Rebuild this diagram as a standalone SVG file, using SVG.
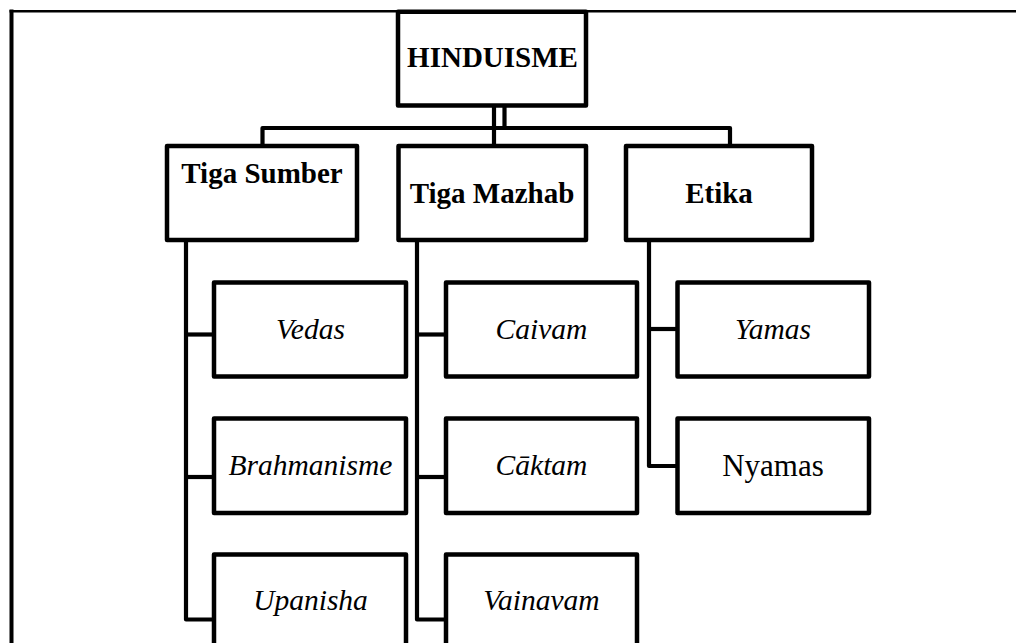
<svg xmlns="http://www.w3.org/2000/svg" width="1016" height="643" viewBox="0 0 1016 643">
<style>
.box{fill:#fff;stroke:#000;stroke-width:4.5;stroke-linejoin:round}
.con{fill:none;stroke:#000;stroke-width:4.2;stroke-linejoin:round}
.t{font-family:"Liberation Serif","Times New Roman",serif;font-size:29.5px;fill:#000;text-anchor:middle}
.b{font-weight:bold;font-size:29px}
.i{font-style:italic}
.n{font-size:31px}
</style>
<rect width="1016" height="643" fill="#fff"/>
<g id="frame">
<line x1="11.5" y1="9.5" x2="11.5" y2="643" stroke="#000" stroke-width="4"/>
<line x1="9.5" y1="11.2" x2="1016" y2="11.2" stroke="#000" stroke-width="2.6"/>
</g>
<g id="connectors" class="con">
<path d="M494,105 V146"/>
<path d="M504.5,105 V128"/>
<path d="M262.5,146 V128 H730 V146"/>
<path d="M186,240 V619.5 H214"/>
<path d="M186,334.5 H214"/>
<path d="M186,477 H214"/>
<path d="M417,240 V619.5 H446"/>
<path d="M417,334.5 H446"/>
<path d="M417,477 H446"/>
<path d="M649,240 V466 H677.5"/>
<path d="M649,329 H677.5"/>
</g>
<g id="n-hinduisme"><rect class="box" x="398" y="11.7" width="188" height="93.8"/><text class="t b" x="492.5" y="66.5">HINDUISME</text></g>
<g id="n-tigasumber"><rect class="box" x="167" y="146" width="190" height="94"/><text class="t b" x="262" y="183">Tiga Sumber</text></g>
<g id="n-tigamazhab"><rect class="box" x="398.5" y="146" width="187.5" height="94"/><text class="t b" x="492" y="203">Tiga Mazhab</text></g>
<g id="n-etika"><rect class="box" x="626" y="146" width="186" height="94"/><text class="t b" x="719" y="203">Etika</text></g>
<g id="n-vedas"><rect class="box" x="214" y="282.5" width="192" height="94"/><text class="t i" x="310.5" y="339">Vedas</text></g>
<g id="n-brahmanisme"><rect class="box" x="214" y="418.5" width="192" height="94.5"/><text class="t i" x="310.5" y="475">Brahmanisme</text></g>
<g id="n-upanisha"><rect class="box" x="214" y="554.5" width="192" height="100"/><text class="t i" x="310.5" y="610">Upanisha</text></g>
<g id="n-caivam"><rect class="box" x="446" y="282.5" width="191" height="94"/><text class="t i" x="541.5" y="339">Caivam</text></g>
<g id="n-caktam"><rect class="box" x="446" y="418.5" width="191" height="94.5"/><text class="t i" x="541.5" y="475">Cāktam</text></g>
<g id="n-vainavam"><rect class="box" x="446" y="554.5" width="191" height="100"/><text class="t i" x="541.5" y="610">Vainavam</text></g>
<g id="n-yamas"><rect class="box" x="677.5" y="282.5" width="191.5" height="94"/><text class="t i" x="773" y="339">Yamas</text></g>
<g id="n-nyamas"><rect class="box" x="677.5" y="418.5" width="191.5" height="94.5"/><text class="t n" x="773" y="476">Nyamas</text></g>
</svg>
